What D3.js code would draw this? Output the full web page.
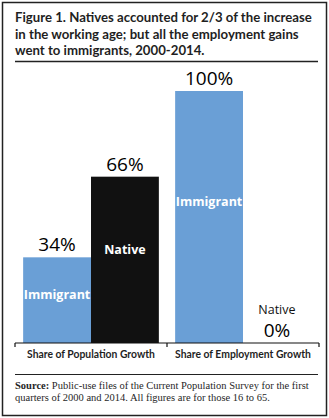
<!DOCTYPE html>
<html>
<head>
<meta charset="utf-8">
<script src="https://cdn.jsdelivr.net/npm/d3@7"></script>
<style>
  html, body { margin: 0; padding: 0; background: #fff; }
  svg { display: block; }
</style>
</head>
<body>
<svg width="329" height="418"></svg>
<script>
const groups = ['Share of Population Growth', 'Share of Employment Growth'];
const series = ['Immigrant', 'Native'];
const immigrantShare = [34, 100];
const nativeShare = [66, 0];
const titleLines = [
    'Figure 1. Natives accounted for 2/3 of the increase',
    'in the working age; but all the employment gains',
    'went to immigrants, 2000-2014.'
];
const sourceLines = [
    ['Source:', ' Public-use files of the Current Population Survey for the first'],
    ['', 'quarters of 2000 and 2014. All figures are for those 16 to 65.']
];

const colors = { Immigrant: '#6a9fd6', Native: '#111111' };

let svg = d3.select('svg');
const W = 329, H = 418;

// shrink or grow the font so a line gets the width it has in the picture
function fitWidth(el, size, target) {
    const w = el.node().getComputedTextLength();
    if (w > 0) el.attr('font-size', (size * target / w).toFixed(2));
}

// frame
svg.append('rect')
    .attr('x', 2.5).attr('y', 2.5)
    .attr('width', W - 5).attr('height', H - 5)
    .attr('fill', 'none').attr('stroke', '#222').attr('stroke-width', 1.5);

// title
let title = svg.append('g').attr('font-family', 'Lato, "Open Sans", sans-serif')
    .attr('font-weight', 'bold').attr('fill', '#1f1f1f');
let firstSize = 15;
titleLines.forEach(function (t, i) {
    let el = title.append('text').attr('x', 15).attr('y', 22 + i * 16.5)
        .attr('font-size', 15).text(t);
    if (i === 0) {
        fitWidth(el, 15, 297);
        firstSize = +el.attr('font-size');
    } else {
        el.attr('font-size', firstSize);
    }
});
svg.append('line').attr('x1', 15).attr('x2', 318).attr('y1', 61.5).attr('y2', 61.5)
    .attr('stroke', '#222').attr('stroke-width', 1.5);

// chart
const base = 343, axisLeft = 15, axisRight = 319;
let y = d3.scaleLinear().domain([0, 100]).range([base, 91]);
let x0 = d3.scaleBand().domain(groups).range([axisLeft, axisRight]);
let x1 = d3.scaleBand().domain(series).range([0, x0.bandwidth()]).paddingOuter(0.12);

let rows = groups.map(function (g, i) {
    return [
        { group: g, key: 'Immigrant', value: immigrantShare[i] },
        { group: g, key: 'Native', value: nativeShare[i] }
    ];
});

let gs = svg.selectAll('.grp').data(rows).enter().append('g')
    .attr('class', 'grp')
    .attr('transform', function (d, i) { return 'translate(' + x0(groups[i]) + ',0)'; });

gs.selectAll('rect').data(function (d) { return d; }).enter().append('rect')
    .attr('x', function (d) { return x1(d.key); })
    .attr('width', x1.bandwidth())
    .attr('y', function (d) { return y(d.value); })
    .attr('height', function (d) { return base - y(d.value); })
    .attr('fill', function (d) { return colors[d.key]; });

// value labels
gs.selectAll('.val').data(function (d) { return d; }).enter().append('text')
    .attr('class', 'val')
    .attr('x', function (d) { return x1(d.key) + x1.bandwidth() / 2; })
    .attr('y', function (d) { return y(d.value) - 6; })
    .attr('text-anchor', 'middle')
    .attr('font-family', '"Open Sans", sans-serif')
    .attr('font-size', 19).attr('fill', '#000')
    .text(function (d) { return d.value + '%'; });

// series labels, inside the bar, or above the value when the bar is empty
gs.selectAll('.lab').data(function (d) { return d; }).enter().append('text')
    .attr('class', 'lab')
    .attr('x', function (d) { return x1(d.key) + x1.bandwidth() / 2; })
    .attr('y', function (d) {
        return d.value > 0 ? y(d.value * 0.56) + 4 : y(d.value) - 29;
    })
    .attr('text-anchor', 'middle')
    .attr('font-family', '"Open Sans", sans-serif')
    .attr('font-weight', function (d) { return d.value > 0 ? 'bold' : 'normal'; })
    .attr('font-size', 12.5)
    .attr('fill', function (d) { return d.value > 0 ? '#fff' : '#111'; })
    .text(function (d) { return d.key; });

// axis
let axis = svg.append('g').attr('stroke', '#111').attr('stroke-width', 1.2);
axis.append('line').attr('x1', axisLeft).attr('x2', axisRight).attr('y1', base).attr('y2', base);
[axisLeft, x0(groups[1]), axisRight].forEach(function (t) {
    axis.append('line').attr('x1', t).attr('x2', t).attr('y1', base).attr('y2', base + 4);
});

let catSize = 12;
svg.selectAll('.cat').data(groups).enter().append('text')
    .attr('class', 'cat')
    .attr('x', function (d) { return x0(d) + x0.bandwidth() / 2; })
    .attr('y', 358)
    .attr('text-anchor', 'middle')
    .attr('font-family', 'Lato, "Open Sans", sans-serif')
    .attr('font-weight', 'bold').attr('font-size', 12).attr('fill', '#1f1f1f')
    .text(function (d) { return d; })
    .each(function (d, i) {
        let el = d3.select(this);
        if (i === 0) {
            fitWidth(el, 12, 128);
            catSize = +el.attr('font-size');
        } else {
            el.attr('font-size', catSize);
        }
    });

svg.append('line').attr('x1', 15).attr('x2', 318).attr('y1', 374.5).attr('y2', 374.5)
    .attr('stroke', '#222').attr('stroke-width', 1);

// source note
let srcSize = 10.5;
sourceLines.forEach(function (parts, i) {
    let t = svg.append('text').attr('x', 15).attr('y', 389 + i * 12)
        .attr('font-family', '"Liberation Serif", serif').attr('font-size', 10.5).attr('fill', '#1f1f1f');
    if (parts[0]) t.append('tspan').attr('font-weight', 'bold').text(parts[0]);
    t.append('tspan').text(parts[1]);
    if (i === 0) {
        fitWidth(t, 10.5, 294);
        srcSize = +t.attr('font-size');
    } else {
        t.attr('font-size', srcSize);
    }
});
</script>
</body>
</html>
